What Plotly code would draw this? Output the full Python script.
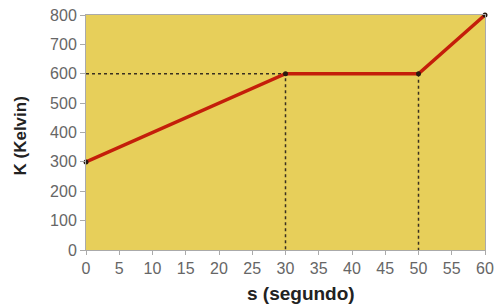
import plotly.graph_objects as go

s_vals = [0, 30, 50, 60]
k_vals = [300, 600, 600, 800]
x_ticks = list(range(0, 61, 5))
y_ticks = list(range(0, 801, 100))

fig = go.Figure()
# dotted guide lines
fig.add_trace(go.Scatter(x=[0, 30, 30], y=[600, 600, 0], mode="lines",
                         line=dict(color="#3a3020", width=1.5, dash="dot"), hoverinfo="skip"))
fig.add_trace(go.Scatter(x=[50, 50], y=[600, 0], mode="lines",
                         line=dict(color="#3a3020", width=1.5, dash="dot"), hoverinfo="skip"))
fig.add_trace(go.Scatter(x=s_vals, y=k_vals, mode="lines+markers", cliponaxis=False,
                         line=dict(color="#C41E0A", width=3.5),
                         marker=dict(color="#2a1a10", size=5)))

fig.update_layout(
    width=495, height=304,
    margin=dict(l=86, r=10, t=15, b=54),
    paper_bgcolor="white", plot_bgcolor="#E7CF5A",
    showlegend=False,
    font=dict(family="Liberation Sans, Arial, sans-serif", color="#666666", size=16),
    annotations=[
        dict(text="<b>s (segundo)</b>", xref="paper", yref="paper", x=0.5, y=0,
             xshift=15, yshift=-43, showarrow=False, xanchor="center", yanchor="middle",
             font=dict(size=19, color="#222222")),
        dict(text="<b>K (Kelvin)</b>", xref="paper", yref="paper", x=0, y=0.5,
             xshift=-66, yshift=-4, showarrow=False, xanchor="center", yanchor="middle",
             textangle=-90, font=dict(size=17, color="#222222")),
    ],
)
fig.update_xaxes(range=[0, 60], tickvals=x_ticks, showgrid=False, zeroline=False,
                 showline=True, linecolor="#aaaaaa", mirror=True, ticks="outside",
                 ticklen=4, tickcolor="#aaaaaa", automargin=False)
fig.update_yaxes(range=[0, 800], tickvals=y_ticks, showgrid=False, zeroline=False,
                 showline=True, linecolor="#aaaaaa", mirror=True, ticks="outside",
                 ticklen=5, tickcolor="#aaaaaa", automargin=False)

fig.write_html("out.html", config={"displayModeBar": False},
               post_script="document.body.style.margin='0';document.body.style.padding='0';")
